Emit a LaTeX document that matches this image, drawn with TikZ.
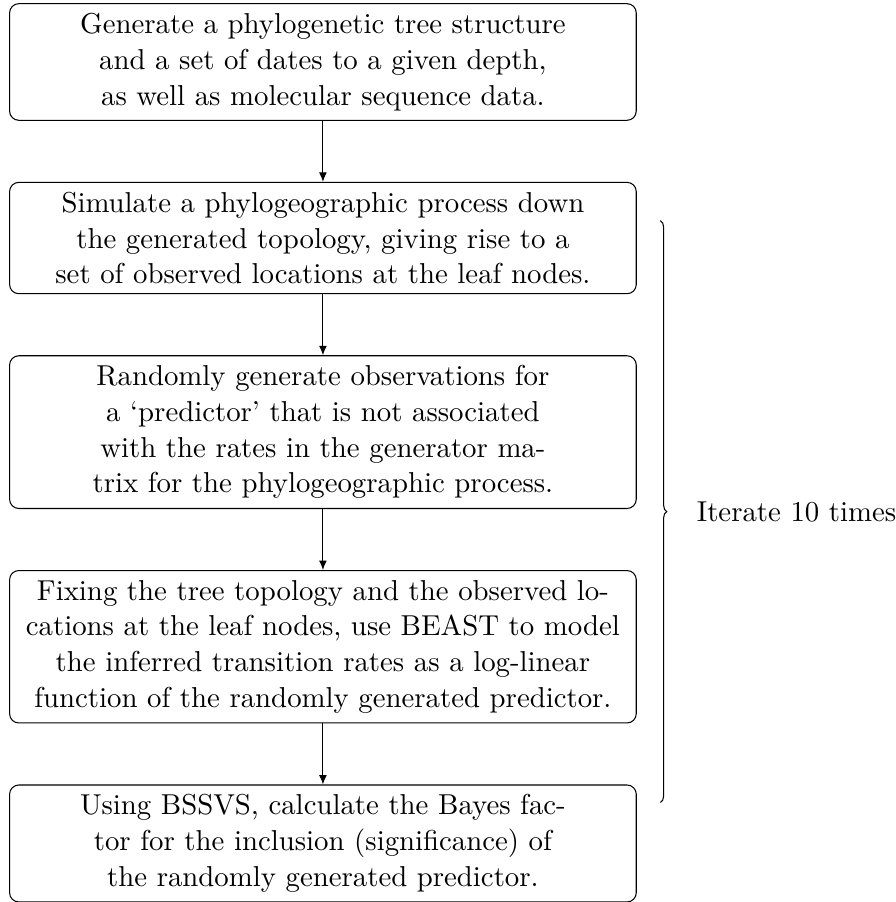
\documentclass[tikz,border=0pt,11pt]{standalone}
\usetikzlibrary{positioning,calc,arrows.meta,decorations.pathreplacing}

\begin{document}
\begin{tikzpicture}[line cap=round, node distance=23.2pt]
  % styles
  \tikzset{
    stepbox/.style={draw, rounded corners=3.5pt, text width=231pt, align=center},
    flow/.style={-{Latex[length=3.6pt,width=3pt]}},
    iterbrace/.style={decorate, decoration={brace, amplitude=2.4pt}}
  }
  % frame
  \useasboundingbox (-122.8pt,1.2pt) rectangle ++(340.7pt,-343pt);
  % steps
  \node[stepbox, anchor=north] (gen) at (0,0) {Generate a phylogenetic tree structure\\
    and a set of dates to a given depth,\\
    as well as molecular sequence data.};
  \node[stepbox, below=of gen] (sim) {Simulate a phylogeographic process down\\
    the generated topology, giving rise to a\\
    set of observed locations at the leaf nodes.};
  \node[stepbox, below=of sim] (pred) {Randomly generate observations for\\
    a `predictor' that is not associated\\
    with the rates in the generator ma-\\
    trix for the phylogeographic process.};
  \node[stepbox, below=of pred] (beast) {Fixing the tree topology and the observed lo-\\
    cations at the leaf nodes, use BEAST to model\\
    the inferred transition rates as a log-linear\\
    function of the randomly generated predictor.};
  \node[stepbox, below=of beast] (bssvs) {Using BSSVS, calculate the Bayes fac-\\
    tor for the inclusion (significance) of\\
    the randomly generated predictor.};
  % arrows
  \draw[flow] (gen) -- (sim);
  \draw[flow] (sim) -- (pred);
  \draw[flow] (pred) -- (beast);
  \draw[flow] (beast) -- (bssvs);
  % loop brace
  \coordinate (top) at ($(sim.north east)+(9pt,-14.8pt)$);
  \coordinate (bot) at ($(bssvs.north east)+(9pt,-6.8pt)$);
  \draw[iterbrace] (top) -- (bot)
    node[midway, right=10pt] (iter) {Iterate 10 times};
\end{tikzpicture}
\end{document}
